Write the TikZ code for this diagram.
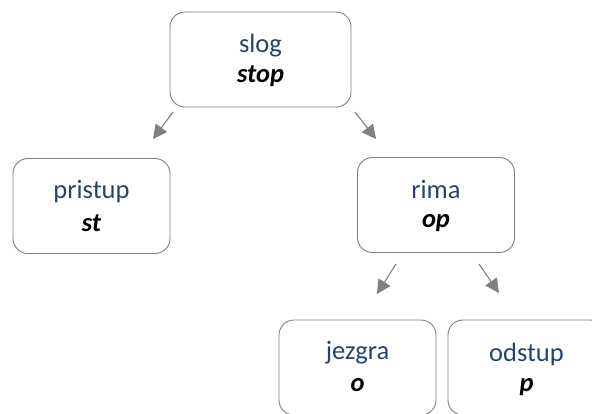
\documentclass[tikz,border=0pt]{standalone}
\usepackage{fontspec}
\setmainfont{Carlito}
\usetikzlibrary{arrows.meta}
\definecolor{navy}{RGB}{40,66,112}
\definecolor{boxgray}{RGB}{128,128,128}
\definecolor{arrgray}{RGB}{128,128,128}
\tikzset{
  box/.style={draw=boxgray,line width=0.9pt,rounded corners=15pt,inner sep=0pt,minimum height=95pt},
  ttl/.style={anchor=base,inner sep=0pt,text=navy,font=\fontsize{26.5}{30}\selectfont},
  val/.style={anchor=base,inner sep=0pt,text=black,font=\fontsize{26.5}{30}\selectfont\bfseries\itshape},
  arr/.style={draw=arrgray,line width=1.1pt,-{Triangle[length=14pt,width=14pt]},color=arrgray}
}
\begin{document}
\begin{tikzpicture}[x=1pt,y=-1pt]
\useasboundingbox (0,0) rectangle (592,413);
\clip (0,0) rectangle (592,413);
% boxes
\node[box,minimum width=181pt] (slog) at (260.5,59.5) {};
\node[box,minimum width=157pt] (pristup) at (91.5,206) {};
\node[box,minimum width=157pt] (rima) at (436,205) {};
\node[box,minimum width=157pt] (jezgra) at (357.5,367.5) {};
\node[box,minimum width=157pt] (odstup) at (526.5,367.5) {};
% texts
\node[ttl] (t1) at ([yshift=-41pt]slog.north) {slog};
\node[val] (v1) at ([yshift=-71pt]slog.north) {stop};
\node[ttl] (t2) at ([yshift=-40pt]pristup.north) {pristup};
\node[val] (v2) at ([yshift=-73pt]pristup.north) {st};
\node[ttl] (t3) at ([yshift=-41pt]rima.north) {rima};
\node[val] (v3) at ([yshift=-70pt]rima.north) {op};
\node[ttl] (t4) at ([yshift=-40pt]jezgra.north) {jezgra};
\node[val] (v4) at ([yshift=-72pt]jezgra.north) {o};
\node[ttl] (t5) at ([yshift=-42pt]odstup.north) {odstup};
\node[val] (v5) at ([yshift=-72pt]odstup.north) {p};
% arrow end points
\coordinate (a1s) at (173,112); \coordinate (a1e) at (153,139);
\coordinate (a2s) at (355,112); \coordinate (a2e) at (376,139);
\coordinate (a3s) at (396,264); \coordinate (a3e) at (377,294);
\coordinate (a4s) at (479,264); \coordinate (a4e) at (499,293);
\draw[arr] (a1s) -- (a1e);
\draw[arr] (a2s) -- (a2e);
\draw[arr] (a3s) -- (a3e);
\draw[arr] (a4s) -- (a4e);
\end{tikzpicture}
\end{document}
